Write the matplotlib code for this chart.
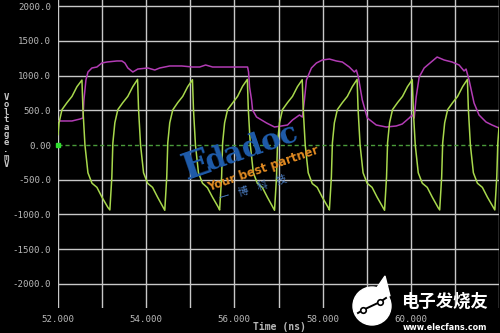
import matplotlib
matplotlib.use("Agg")
import matplotlib.pyplot as plt
from matplotlib.patches import Ellipse, Polygon
from matplotlib.lines import Line2D

# ---------------- data ----------------
green_t = [
    52.000, 52.023, 52.091, 52.204, 52.317, 52.430, 52.543, 52.566, 52.611, 52.679, 52.770, 52.883, 52.996, 53.132,
    53.176, 53.221, 53.244, 53.289, 53.357, 53.470, 53.583, 53.696, 53.804, 53.827, 53.872, 53.940, 54.031, 54.144, 54.257, 54.393,
    54.421, 54.466, 54.489, 54.534, 54.602, 54.715, 54.828, 54.941, 55.049, 55.072, 55.117, 55.185, 55.276, 55.389, 55.502, 55.638,
    55.665, 55.710, 55.733, 55.778, 55.846, 55.959, 56.072, 56.185, 56.293, 56.316, 56.361, 56.429, 56.520, 56.633, 56.746, 56.882,
    56.910, 56.955, 56.978, 57.023, 57.091, 57.204, 57.317, 57.430, 57.538, 57.561, 57.606, 57.674, 57.765, 57.878, 57.991, 58.127,
    58.154, 58.199, 58.222, 58.267, 58.335, 58.448, 58.561, 58.674, 58.782, 58.805, 58.850, 58.918, 59.009, 59.122, 59.235, 59.371,
    59.405, 59.450, 59.473, 59.518, 59.586, 59.699, 59.812, 59.925, 60.033, 60.056, 60.101, 60.169, 60.260, 60.373, 60.486, 60.622,
    60.655, 60.700, 60.723, 60.768, 60.836, 60.949, 61.062, 61.175, 61.283, 61.306, 61.351, 61.419, 61.510, 61.623, 61.736, 61.872,
    61.905, 61.950, 61.973, 62.000,
]
green_mv = [
    150, 320, 510, 610, 700, 840, 935, 510, 0, -400, -550, -610, -750, -900,
    -935, -460, 30, 320, 510, 610, 700, 840, 945, 510, 0, -400, -550, -610, -750, -905,
    -940, -460, 30, 320, 505, 610, 700, 840, 940, 510, 0, -400, -550, -615, -750, -900,
    -935, -460, 30, 320, 510, 605, 700, 845, 945, 510, 0, -400, -550, -610, -750, -905,
    -940, -460, 30, 320, 510, 610, 700, 840, 940, 510, 0, -400, -555, -610, -750, -900,
    -935, -460, 30, 320, 510, 610, 700, 840, 945, 510, 0, -400, -550, -610, -750, -900,
    -940, -460, 30, 320, 510, 610, 700, 840, 940, 510, 0, -400, -550, -610, -750, -905,
    -935, -460, 30, 320, 510, 610, 700, 840, 945, 510, 0, -400, -550, -610, -750, -900,
    -935, -460, 30, 250,
]

mag_t = [
    52.000, 52.317, 52.498, 52.566, 52.588, 52.633, 52.679, 52.769, 52.882, 52.995, 53.109, 53.335, 53.448,
    53.516, 53.584, 53.697, 53.810, 54.036, 54.195, 54.308, 54.534, 54.805, 55.054, 55.213, 55.348, 55.507,
    55.959, 56.299, 56.321, 56.344, 56.389, 56.412, 56.502, 56.729, 56.910, 57.068, 57.204, 57.317, 57.475,
    57.543, 57.588, 57.633, 57.747, 57.860, 57.995, 58.154, 58.312, 58.448, 58.606, 58.719, 58.765, 58.810,
    58.900, 59.014, 59.217, 59.443, 59.670, 59.805, 59.964, 60.032, 60.077, 60.122, 60.190, 60.303, 60.462,
    60.597, 60.756, 60.937, 61.095, 61.208, 61.253, 61.321, 61.434, 61.548, 61.706, 61.842, 62.000,
]
mag_mv = [
    346, 346, 374, 389, 648, 936, 1051, 1109, 1123, 1181, 1195, 1210, 1210,
    1181, 1109, 1051, 1094, 1109, 1080, 1109, 1138, 1138, 1123, 1123, 1152, 1123,
    1123, 1123, 1051, 835, 648, 504, 403, 317, 259, 274, 288, 360, 432,
    403, 648, 936, 1109, 1181, 1224, 1238, 1210, 1195, 1123, 1051, 1080, 979,
    648, 389, 288, 259, 274, 302, 389, 432, 389, 691, 979, 1109, 1195,
    1267, 1224, 1195, 1152, 1066, 1094, 936, 605, 432, 331, 288, 245,
]

x_grid = [52, 53, 54, 55, 56, 57, 58, 59, 60, 61, 62]
x_labels = ["52.000", "", "54.000", "", "56.000", "", "58.000", "", "60.000", "", ""]
y_grid = [-2000, -1500, -1000, -500, 0, 500, 1000, 1500, 2000]
y_labels = ["-2000.0", "-1500.0", "-1000.0", "-500.0", "0.00", "500.0", "1000.0", "1500.0", "2000.0"]

# ---------------- figure ----------------
W, H = 500, 333
fig = plt.figure(figsize=(5.0, 3.33), dpi=100, facecolor="black")
ax = fig.add_axes([58 / W, 1 - 308 / H, (499 - 58) / W, 308 / H])
ax.set_facecolor("black")
ax.set_xlim(52, 62)
ax.set_ylim(-2347, 2088)
for s in ax.spines.values():
    s.set_visible(False)

gridc = "#c8c8c8"
for xv in x_grid:
    ax.axvline(xv, color=gridc, lw=1.0, zorder=1)
for yv in y_grid:
    if yv == 0:
        ax.axhline(0, color="#4a9a3a", lw=1.0, ls=(0, (3, 2)), zorder=1)
    else:
        ax.axhline(yv, color=gridc, lw=1.0, zorder=1)

ax.plot(mag_t, mag_mv, color="#b23cb4", lw=1.1, zorder=3)
ax.plot(green_t, green_mv, color="#a8d84c", lw=1.1, zorder=4)
ax.plot([52.0], [0], marker="s", ms=2.5, color="#30e030", zorder=5, clip_on=False)

ax.set_xticks(x_grid)
ax.set_xticklabels(x_labels)
ax.set_yticks(y_grid)
ax.set_yticklabels(y_labels)
ax.tick_params(length=0, colors="#b8b8b8", labelsize=6.6, pad=5)
for lab in ax.get_xticklabels() + ax.get_yticklabels():
    lab.set_family("DejaVu Sans Mono")

fig.text(279 / W, 1 - 327 / H, "Time (ns)", color="#b8b8b8", fontsize=7,
         ha="center", va="center", family="DejaVu Sans Mono", fontweight="bold")
fig.text(6 / W, 1 - 131 / H, "\n".join("Voltage.mV"), color="#c8c8c8", fontsize=6.5,
         ha="center", va="center", linespacing=0.78, family="DejaVu Sans Mono", fontweight="bold")

# watermark (Edadoc)
fig.text(196 / W, 1 - 165 / H, "E", color="#1f5cab", fontsize=27, rotation=19,
         ha="center", va="center", family="DejaVu Serif", fontweight="bold", zorder=10)
fig.text(252 / W, 1 - 147 / H, "dadoc", color="#1f5cab", fontsize=21, rotation=19,
         ha="center", va="center", family="DejaVu Serif", fontweight="bold", zorder=10)
fig.text(263 / W, 1 - 169 / H, "Your best partner", color="#e08a22", fontsize=8.5, rotation=19,
         ha="center", va="center", fontweight="bold", zorder=11)
fig.text(253 / W, 1 - 189 / H, "一    博    科    技", color="#4d7fc4", fontsize=7.5, rotation=17,
         ha="center", va="center", family=["Noto Sans CJK SC", "DejaVu Sans"], zorder=10)

# watermark (elecfans)
fig.add_artist(Polygon([(374 / W, 1 - 292 / H), (385 / W, 1 - 276 / H), (390 / W, 1 - 296 / H)],
                       closed=True, transform=fig.transFigure, color="white", zorder=10))
fig.add_artist(Ellipse((372 / W, 1 - 306 / H), 38 / W, 38 / H, transform=fig.transFigure,
                       color="white", zorder=10))
fig.add_artist(Line2D([358 / W, 363 / W, 380 / W, 386 / W], [1 - 313 / H, 1 - 310 / H, 1 - 302 / H, 1 - 298 / H],
                      transform=fig.transFigure, color="black", lw=1.4, zorder=11))
fig.add_artist(Line2D([363 / W, 380 / W], [1 - 310 / H, 1 - 302 / H], transform=fig.transFigure,
                      ls="none", marker="o", ms=4, mfc="white", mec="black", mew=1.2, zorder=12))
fig.text(444 / W, 1 - 302 / H, "电子发烧友", color="white", fontsize=12.5, fontweight="bold",
         ha="center", va="center", family=["Noto Sans CJK SC", "DejaVu Sans"], zorder=11)
fig.text(445 / W, 1 - 327 / H, "www.elecfans.com", color="white", fontsize=5.8, fontweight="bold",
         ha="center", va="center", zorder=11)

fig.savefig("out.png", dpi=100, facecolor="black")
